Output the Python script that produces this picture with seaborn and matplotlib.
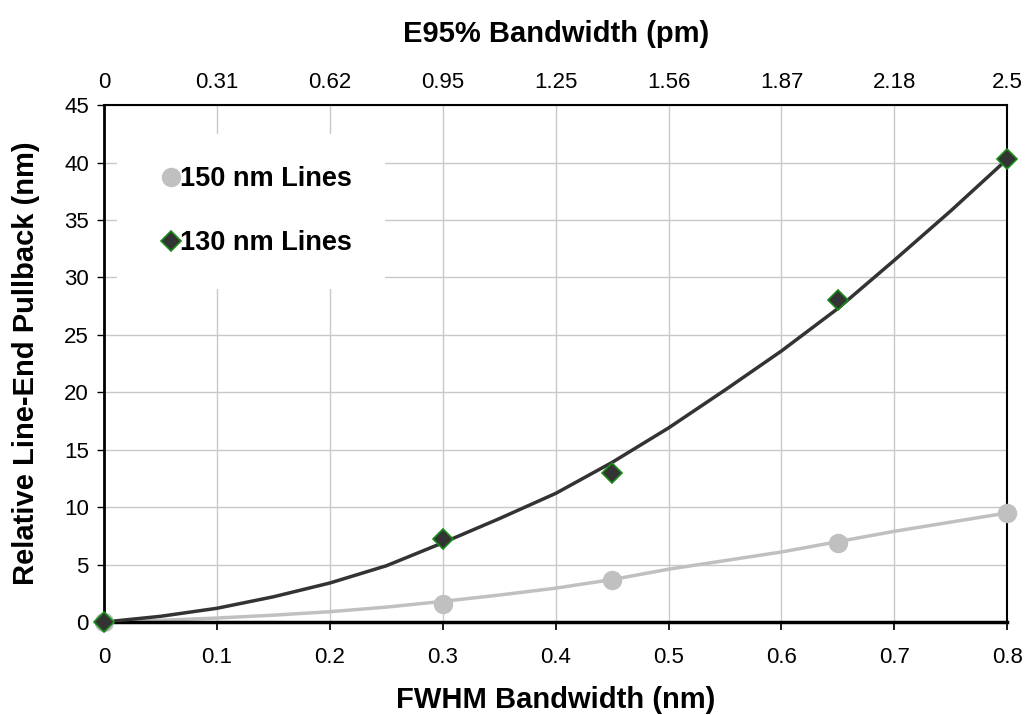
import numpy as np
import pandas as pd
import seaborn as sns
import matplotlib.pyplot as plt

# measured points
fwhm_pts = [0.0, 0.3, 0.45, 0.65, 0.8]
pullback_150 = [0.0, 1.6, 3.7, 6.9, 9.5]
pullback_130 = [0.0, 7.2, 13.0, 28.0, 40.3]

# trend curves
fwhm_curve = [0.0, 0.05, 0.1, 0.15, 0.2, 0.25, 0.3, 0.35, 0.4,
              0.45, 0.5, 0.55, 0.6, 0.65, 0.7, 0.75, 0.8]
curve_150 = [0.0, 0.15, 0.35, 0.6, 0.9, 1.3, 1.8, 2.35, 2.95,
             3.7, 4.6, 5.35, 6.1, 7.0, 7.9, 8.7, 9.5]
curve_130 = [0.0, 0.5, 1.2, 2.2, 3.4, 4.9, 6.9, 9.0, 11.2,
             13.9, 16.9, 20.2, 23.6, 27.3, 31.5, 35.8, 40.3]

bottom_labels = ['0', '0.1', '0.2', '0.3', '0.4', '0.5', '0.6', '0.7', '0.8']
top_labels = ['0', '0.31', '0.62', '0.95', '1.25', '1.56', '1.87', '2.18', '2.5']

sns.set_theme(style="white")
plt.rcParams['font.family'] = ['Liberation Sans', 'DejaVu Sans']
plt.rcParams['text.color'] = 'black'
plt.rcParams['axes.labelcolor'] = 'black'
plt.rcParams['xtick.color'] = 'black'
plt.rcParams['ytick.color'] = 'black'

fig = plt.figure(figsize=(10.31, 7.15), dpi=100)
ax = fig.add_axes([0.101, 0.130, 0.876, 0.723])

df_curve = pd.DataFrame({'x': fwhm_curve, 'c150': curve_150, 'c130': curve_130})
sns.lineplot(data=df_curve, x='x', y='c150', color='#c0c0c0', lw=2.5, ax=ax, zorder=2)
sns.lineplot(data=df_curve, x='x', y='c130', color='#333333', lw=2.5, ax=ax, zorder=3)

ax.plot(fwhm_pts, pullback_150, 'o', ms=13, color='#c0c0c0', mec='#c0c0c0',
        zorder=4, label='150 nm Lines', clip_on=False)
ax.plot(fwhm_pts, pullback_130, 'D', ms=10.5, color='#333333', mec='#1a8a1a', mew=1.2,
        zorder=5, label='130 nm Lines', clip_on=False)

ax.set_xlim(0, 0.8)
ax.set_ylim(0, 45)
ax.set_xticks(np.arange(0, 0.81, 0.1))
ax.set_xticklabels(bottom_labels)
ax.set_yticks(np.arange(0, 46, 5))
ax.grid(True, color='#c8c8c8', lw=1.0)
ax.set_axisbelow(True)
ax.tick_params(axis='y', labelsize=16, length=5, width=1, direction='out',
               left=True, pad=6)
ax.tick_params(axis='x', labelsize=16, bottom=False, pad=12)

for side in ['left', 'bottom', 'right', 'top']:
    ax.spines[side].set_color('black')
ax.spines['left'].set_linewidth(2)
ax.spines['bottom'].set_linewidth(2.5)
ax.spines['right'].set_linewidth(1.5)
ax.spines['top'].set_linewidth(1.5)

ax.set_xlabel('FWHM Bandwidth (nm)', fontsize=21, fontweight='bold', labelpad=13)
ax.set_ylabel('Relative Line-End Pullback (nm)', fontsize=21, fontweight='bold', labelpad=17)

top = ax.twiny()
top.set_xlim(ax.get_xlim())
top.set_xticks(np.arange(0, 0.81, 0.1))
top.set_xticklabels(top_labels)
top.tick_params(axis='x', labelsize=16, length=0, pad=9)
for side in top.spines.values():
    side.set_visible(False)
top.set_xlabel('E95% Bandwidth (pm)', fontsize=21, fontweight='bold', labelpad=21)

leg = ax.legend(loc='upper left', bbox_to_anchor=(0.014, 0.945), frameon=True,
                facecolor='white', edgecolor='white', framealpha=1,
                prop={'weight': 'bold', 'size': 19.5}, handlelength=1.6,
                handletextpad=-0.45, labelspacing=1.42, borderpad=1.2,
                borderaxespad=0)
leg.get_frame().set_linewidth(0)

fig.savefig('out.png', dpi=100)
